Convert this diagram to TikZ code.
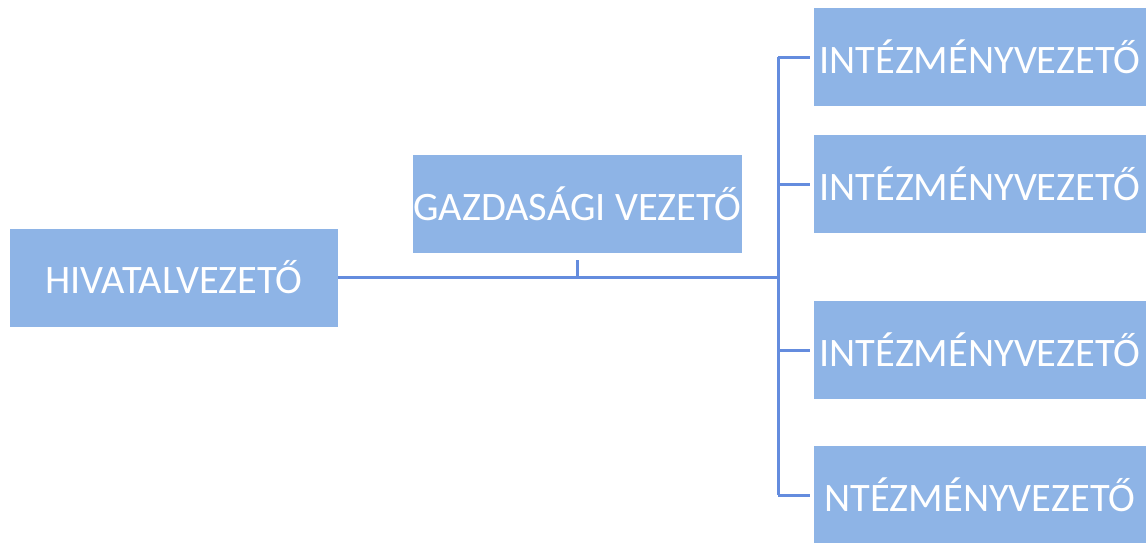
\documentclass[tikz,border=0pt]{standalone}
\usepackage{fontspec}
\setmainfont{Carlito}
\usepackage{xcolor}
\usetikzlibrary{calc, positioning}
\definecolor{boxblue}{RGB}{142,180,230}
\definecolor{lineblue}{RGB}{100,140,222}
\tikzset{
  %Org chart
  org-box/.style={rectangle, fill=boxblue, text=white, font=\fontsize{23}{26}\selectfont, minimum width=6.6cm, minimum height=1.96cm, inner sep=0pt},
  org-line/.style={draw=lineblue, line width=1.7pt}
}
\begin{document}
\begin{tikzpicture}
    \useasboundingbox (0,0) rectangle (22.92,-10.84);
    % --- Boxes ---
    \node[org-box, minimum width=6.56cm] (hiv) at (3.48, -5.55) {HIVATALVEZETŐ};
    \node[org-box, minimum width=6.58cm] (gazd) at (11.55, -4.08) {GAZDASÁGI VEZETŐ};
    \node[org-box, minimum width=6.64cm] (int1) at (19.6, -1.14) {INTÉZMÉNYVEZETŐ};
    \node[org-box, minimum width=6.64cm] (int2) at (19.6, -3.68) {INTÉZMÉNYVEZETŐ};
    \node[org-box, minimum width=6.64cm] (int3) at (19.6, -7.0) {INTÉZMÉNYVEZETŐ};
    \node[org-box, minimum width=6.64cm] (int4) at (19.6, -9.9) {NTÉZMÉNYVEZETŐ};

    % --- Connectors ---
    \coordinate (bus) at (15.56, -5.55);
    \draw[org-line] (hiv.east) -- (bus);
    \draw[org-line] ([yshift=-0.14cm]gazd.south) -- (gazd.south |- bus);
    \draw[org-line] (bus |- int1.west) -- (bus |- int4.west);
    \draw[org-line] (bus |- int1.west) -- ([xshift=-0.08cm]int1.west);
    \draw[org-line] (bus |- int2.west) -- ([xshift=-0.08cm]int2.west);
    \draw[org-line] (bus |- int3.west) -- ([xshift=-0.08cm]int3.west);
    \draw[org-line] (bus |- int4.west) -- ([xshift=-0.08cm]int4.west);
\end{tikzpicture}
\end{document}
